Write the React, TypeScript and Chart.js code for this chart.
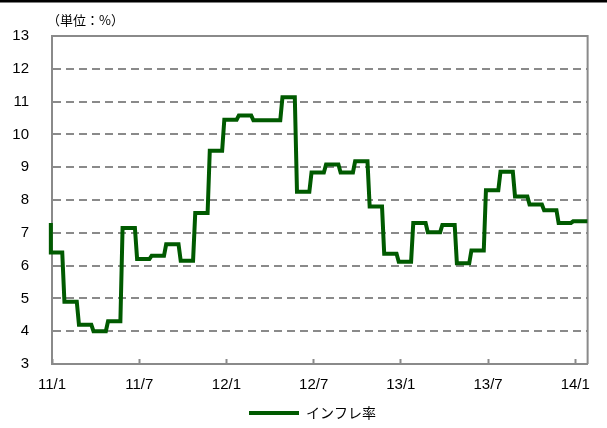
import React, { useEffect, useRef } from "react";
import { Chart, registerables } from "chart.js";

Chart.register(...registerables);

// ---- data ----
const tickLabels = ["11/1", "11/7", "12/1", "12/7", "13/1", "13/7", "14/1"];
const seriesName = "インフレ率";
const unitLabel = "（単位：%）";
const priorValue = 7.3; // value carried in from 10/12
const inflation = [
  6.4, 4.9, 4.2, 4.0, 4.3, 7.15, 6.2, 6.3, 6.65, 6.15, 7.6, 9.5,
  10.45, 10.58, 10.43, 10.43, 11.13, 8.25, 8.84, 9.08, 8.84, 9.18, 7.8, 6.36,
  6.12, 7.3, 7.02, 7.24, 6.07, 6.46, 8.3, 8.86, 8.11, 7.86, 7.69, 7.3,
  7.35,
];
const yMin = 3;
const yMax = 13;

// ---- layout constants (not data) ----
const MONTHS_PER_TICK = 6;
const X_MIN = 0;
const X_MAX = 36.85;
const X_START = -0.08;
const CHANGE = 0.78; // fraction of month when value switches
const RAMP = 0.15;

function buildPoints() {
  const pts: { x: number; y: number }[] = [{ x: X_START, y: priorValue }];
  inflation.forEach((v, m) => {
    const xa = Math.max(m - 1 + CHANGE + RAMP / 2, X_START);
    const xb = m === inflation.length - 1 ? X_MAX : m + CHANGE - RAMP / 2;
    pts.push({ x: xa, y: v });
    pts.push({ x: xb, y: v });
  });
  return pts;
}

const GREEN = "#005a00";
const GRAY = "#8a8a8a";
const FONT = '"Liberation Sans", Arial, sans-serif';
const JFONT = '"Noto Sans CJK JP", sans-serif';

const decorPlugin = {
  id: "decor",
  afterLayout(chart: any) {
    const lg = chart.legend;
    if (lg) {
      lg.left += 12;
      lg.right += 12;
    }
  },
  beforeDraw(chart: any) {
    const { ctx, width, height } = chart;
    ctx.save();
    ctx.fillStyle = "#fff";
    ctx.fillRect(0, 0, width, height);
    ctx.fillStyle = "#000";
    ctx.fillRect(0, 0, width, 2.5);
    ctx.restore();
  },
  beforeDatasetsDraw(chart: any) {
    const { ctx, chartArea } = chart;
    ctx.save();
    ctx.strokeStyle = GRAY;
    ctx.lineWidth = 2;
    ctx.beginPath();
    ctx.moveTo(chartArea.left, chartArea.top);
    ctx.lineTo(chartArea.right, chartArea.top);
    ctx.lineTo(chartArea.right, chartArea.bottom);
    ctx.stroke();
    ctx.restore();
  },
  afterDraw(chart: any) {
    const { ctx } = chart;
    ctx.save();
    ctx.fillStyle = "#000";
    ctx.font = `13px ${JFONT}`;
    ctx.textBaseline = "middle";
    ctx.textAlign = "left";
    ctx.fillText(unitLabel, 47, 20);
    ctx.restore();
  },
};

export default function App() {
  const ref = useRef<HTMLCanvasElement>(null);
  useEffect(() => {
    if (!ref.current) return;
    const chart = new Chart(ref.current, {
      type: "line",
      data: {
        datasets: [
          {
            label: seriesName,
            data: buildPoints(),
            borderColor: GREEN,
            backgroundColor: GREEN,
            borderWidth: 4,
            pointRadius: 0,
            pointHoverRadius: 0,
            pointStyle: "line",
            tension: 0,
            borderJoinStyle: "miter",
            clip: { left: 4, top: 4, right: 0, bottom: 4 } as any,
          },
        ],
      },
      options: {
        responsive: false,
        animation: false,
        events: [],
        layout: { padding: { top: 36, right: 6, bottom: -2, left: 0 } },
        plugins: {
          tooltip: { enabled: false },
          title: { display: false },
          legend: {
            display: true,
            position: "bottom",
            labels: {
              usePointStyle: true,
              pointStyle: "line",
              pointStyleWidth: 50,
              padding: 10,
              color: "#000",
              font: { size: 14, family: JFONT },
            },
          },
        },
        scales: {
          x: {
            type: "linear",
            bounds: "data",
            ticks: {
              autoSkip: false,
              maxRotation: 0,
              padding: 17,
              color: "#000",
              font: { size: 15, family: FONT },
              callback: (v: any) => {
                const i = Math.round(Number(v) / MONTHS_PER_TICK);
                return Math.abs(Number(v) - i * MONTHS_PER_TICK) < 1e-6 ? tickLabels[i] ?? "" : "";
              },
            },
            afterBuildTicks: (s: any) => {
              s.min = X_MIN;
              s.max = X_MAX;
              s.ticks = tickLabels.map((_, i) => ({ value: X_MIN + i * MONTHS_PER_TICK }));
            },
            grid: {
              drawOnChartArea: false,
              drawTicks: true,
              tickLength: -5,
              tickColor: GRAY,
              tickWidth: 2,
            },
            border: { display: true, color: GRAY, width: 2 },
            afterFit: (s: any) => {
              s.height = 32;
            },
          },
          y: {
            min: yMin,
            max: yMax,
            ticks: {
              stepSize: 1,
              padding: 23,
              color: "#000",
              font: { size: 15, family: FONT },
            },
            grid: { drawTicks: false, color: GRAY, lineWidth: 2 },
            border: { display: true, color: GRAY, width: 2, dash: [8, 5] },
            afterFit: (s: any) => {
              s.width = 52;
            },
          },
        },
      },
      plugins: [decorPlugin],
    } as any);
    return () => chart.destroy();
  }, []);

  return (
    <div style={{ position: "fixed", left: 0, top: 0, width: 607, height: 428, background: "#fff" }}>
      <canvas ref={ref} width={607} height={428} style={{ display: "block" }} />
    </div>
  );
}
